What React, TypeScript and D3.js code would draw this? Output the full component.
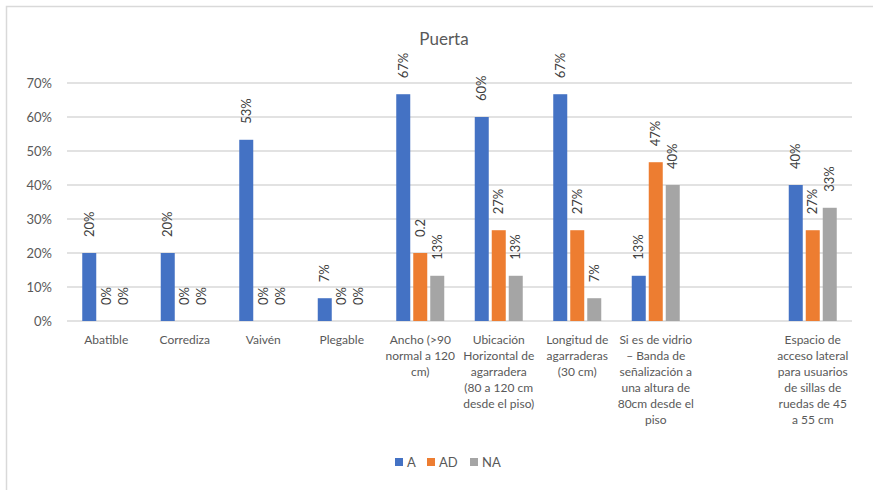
import React from "react";
import * as d3 from "d3";

const categories: string[][] = [
  ["Abatible"],
  ["Corrediza"],
  ["Vaivén"],
  ["Plegable"],
  ["Ancho (>90", "normal a 120", "cm)"],
  ["Ubicación", "Horizontal de", "agarradera", "(80 a 120 cm", "desde el piso)"],
  ["Longitud de", "agarraderas", "(30 cm)"],
  ["Si es de vidrio", "– Banda de", "señalización a", "una altura de", "80cm desde el", "piso"],
  [""],
  ["Espacio de", "acceso lateral", "para usuarios", "de sillas de", "ruedas de 45", "a 55 cm"],
];

const seriesNames = ["A", "AD", "NA"];
const seriesColors = ["#4472C4", "#ED7D31", "#A5A5A5"];

const valuesA: (number | null)[] = [0.2, 0.2, 0.533, 0.067, 0.667, 0.6, 0.667, 0.133, null, 0.4];
const valuesAD: (number | null)[] = [0, 0, 0, 0, 0.2, 0.267, 0.267, 0.467, null, 0.267];
const valuesNA: (number | null)[] = [0, 0, 0, 0, 0.133, 0.133, 0.067, 0.4, null, 0.333];

// label overrides (as shown in the chart)
const labelsAD: (string | null)[] = [null, null, null, null, "0.2", null, null, null, null, null];

const yTicks = [0, 0.1, 0.2, 0.3, 0.4, 0.5, 0.6, 0.7];

const W = 873;
const H = 490;
const font = "Lato, 'Open Sans', sans-serif";

export default function App() {
  const keys = categories.map((_, i) => String(i));
  const x = d3.scaleBand<string>().domain(keys).range([67, 852]);
  const y = d3.scaleLinear().domain([0, 0.7]).range([321, 83]);
  const x1 = d3
    .scaleBand<string>()
    .domain(seriesNames)
    .range([-24, 24])
    .paddingInner(3 / 17);
  const fmt = d3.format(".0%");
  const allValues = [valuesA, valuesAD, valuesNA];
  const overrides = [null, labelsAD, null];

  return (
    <svg
      width={W}
      height={H}
      style={{ position: "absolute", left: 0, top: 0, background: "#fff" }}
      fontFamily={font}
    >
      <rect x={6.5} y={6.5} width={W + 10} height={H + 10} fill="#fff" stroke="#d9d9d9" strokeWidth={1.5} />
      <text x={444} y={45} textAnchor="middle" fontSize={17} fill="#595959">
        Puerta
      </text>
      {yTicks.map((t) => (
        <g key={t}>
          <line x1={67} x2={852} y1={y(t)} y2={y(t)} stroke="#d9d9d9" strokeWidth={1.5} />
          <text x={52} y={y(t)} dy="0.35em" textAnchor="end" fontSize={13} fill="#595959">
            {fmt(t)}
          </text>
        </g>
      ))}
      {keys.map((k, i) => {
        const cx = (x(k) as number) + x.bandwidth() / 2;
        return (
          <g key={k}>
            {seriesNames.map((s, si) => {
              const v = allValues[si][i];
              if (v === null) return null;
              const bx = cx + (x1(s) as number);
              const bw = x1.bandwidth();
              const ov = overrides[si] ? (overrides[si] as (string | null)[])[i] : null;
              const label = ov ?? fmt(v);
              const ly = y(v) - 16;
              return (
                <g key={s}>
                  {v > 0 && (
                    <rect x={bx} y={y(v)} width={bw} height={y(0) - y(v)} fill={seriesColors[si]} />
                  )}
                  <text
                    transform={`translate(${bx + bw / 2},${ly}) rotate(-90)`}
                    dy="0.35em"
                    textAnchor="start"
                    fontSize={13}
                    fill="#404040"
                  >
                    {label}
                  </text>
                </g>
              );
            })}
            <text textAnchor="middle" fontSize={12} fill="#595959">
              {categories[i].map((line, li) => (
                <tspan key={li} x={cx} y={340 + li * 16} dy="0.35em">
                  {line}
                </tspan>
              ))}
            </text>
          </g>
        );
      })}
      {seriesNames.map((s, si) => {
        const lx = [395, 427, 470][si];
        return (
          <g key={s}>
            <rect x={lx} y={458} width={8} height={8} fill={seriesColors[si]} />
            <text x={lx + 12} y={462} dy="0.35em" fontSize={13} fill="#595959">
              {s}
            </text>
          </g>
        );
      })}
    </svg>
  );
}
